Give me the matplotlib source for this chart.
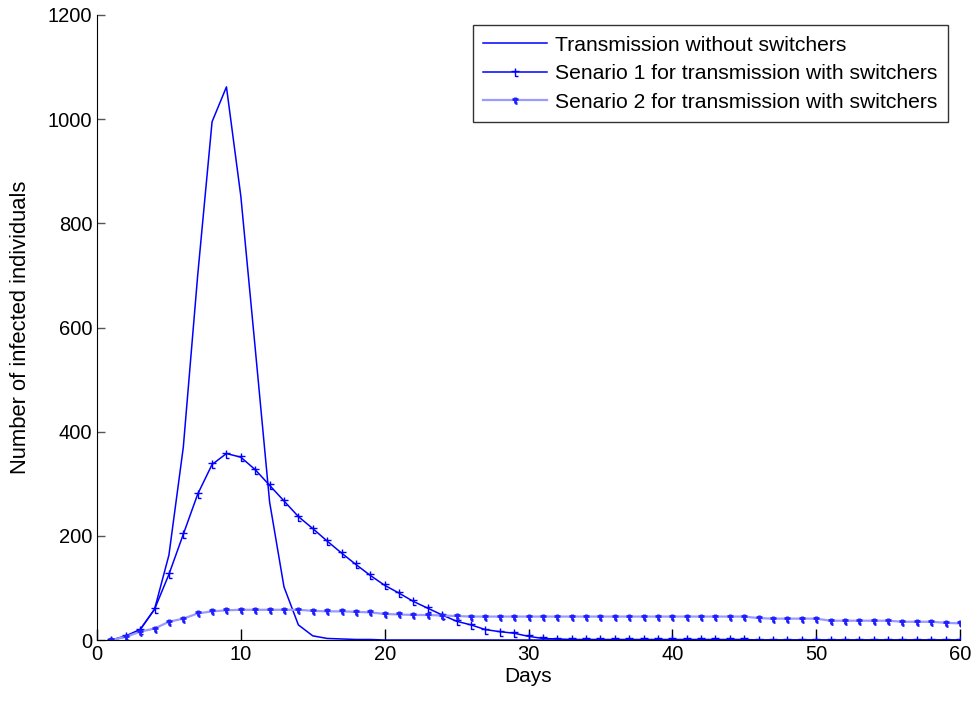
import matplotlib
matplotlib.use("Agg")
import matplotlib.pyplot as plt
from matplotlib.path import Path

plt.rcParams['font.family'] = ['Liberation Sans', 'DejaVu Sans']

days = list(range(1, 61))

without_switchers = [
    0, 6, 20, 59, 163, 370, 700, 995, 1062, 852,
    560, 265, 102, 29, 8, 3, 2, 1, 1, 0,
    0, 0, 0, 0, 0, 0, 0, 0, 0, 0,
    0, 0, 0, 0, 0, 0, 0, 0, 0, 0,
    0, 0, 0, 0, 0, 0, 0, 0, 0, 0,
    0, 0, 0, 0, 0, 0, 0, 0, 0, 0,
]

scenario1 = [
    0, 8, 20, 59, 126, 203, 280, 337, 358, 351,
    327, 297, 267, 237, 214, 190, 167, 145, 124, 105,
    90, 74, 61, 48, 36, 29, 20, 16, 13, 7,
    3, 2, 1, 1, 1, 1, 1, 1, 1, 1,
    1, 1, 1, 1, 1, 0, 0, 0, 0, 0,
    0, 0, 0, 0, 0, 0, 0, 0, 0, 0,
]

scenario2 = [
    0, 6, 16, 22, 35, 41, 51, 55, 57, 58,
    58, 58, 58, 58, 56, 55, 55, 54, 53, 50,
    49, 48, 48, 47, 46, 45, 45, 45, 45, 45,
    45, 45, 45, 45, 45, 45, 45, 45, 45, 45,
    45, 45, 45, 45, 45, 42, 41, 41, 41, 41,
    37, 37, 37, 37, 37, 35, 35, 35, 33, 32,
]

labels = [
    "Transmission without switchers",
    "Senario 1 for transmission with switchers",
    "Senario 2 for transmission with switchers",
]

# small "t"-shaped marker
t_marker = Path(
    [(0, 1), (0, -1), (-1, 0.2), (1, 0.2), (0, -1), (0.6, -1)],
    [Path.MOVETO, Path.LINETO, Path.MOVETO, Path.LINETO, Path.MOVETO, Path.LINETO],
)

fig = plt.figure(figsize=(9.78, 7.04), dpi=100)
ax = fig.add_axes([97 / 978, 64 / 704, (960 - 97) / 978, (640 - 15) / 704])

blue = '#0000ff'
ax.plot(days, without_switchers, color=blue, lw=1.1, label=labels[0])
ax.plot(days, scenario1, color=blue, lw=1.1, marker=t_marker, ms=6,
        mew=1.0, mec=blue, label=labels[1])
ax.plot(days, scenario2, color='#9a9aff', lw=1.6, marker=t_marker, ms=5,
        mew=2.0, mec='#2020ff', label=labels[2])

ax.set_xlim(0, 60)
ax.set_ylim(0, 1200)
ax.set_xticks(range(0, 61, 10))
ax.set_yticks(range(0, 1201, 200))
ax.spines['top'].set_visible(False)
ax.spines['right'].set_visible(False)
ax.tick_params(direction='in', length=6, width=1, labelsize=14.5, colors='black')
ax.tick_params(axis='y', color='#555555')
ax.tick_params(axis='x', length=8)

ax.set_xlabel("Days", fontsize=15, labelpad=2)
ax.set_ylabel("Number of infected individuals", fontsize=15.8, labelpad=12)

leg = ax.legend(loc='upper right', bbox_to_anchor=(948 / 978, 1 - 25 / 704),
                bbox_transform=fig.transFigure, fontsize=15.2, frameon=True,
                fancybox=False, edgecolor='black', handlelength=3.0,
                borderpad=0.5, labelspacing=0.45, handletextpad=0.4,
                borderaxespad=0)
leg.get_frame().set_linewidth(1.0)

fig.savefig("out.png", dpi=100)
